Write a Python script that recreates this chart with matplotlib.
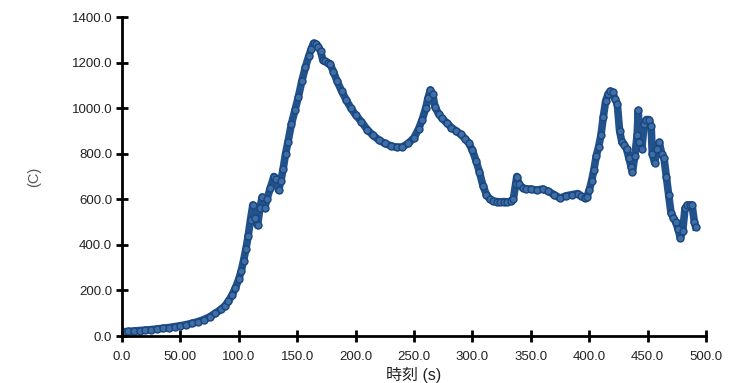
import matplotlib
matplotlib.use("Agg")
import matplotlib.pyplot as plt

plt.rcParams["font.family"] = ["Liberation Sans", "Noto Sans CJK JP", "DejaVu Sans"]

# time (s) and temperature (C)
time_s = [0, 5, 10, 15, 20, 25, 30, 35, 40, 45, 50, 55, 60, 65, 70, 75, 80, 85, 88, 91,
          94, 97, 100, 102, 104, 106, 108, 110, 112, 114, 116, 118, 120, 122, 124, 127,
          130, 132, 134, 136, 138, 140, 142, 145, 148, 151, 154, 157, 160, 162, 164, 166,
          168, 170, 172, 174, 176, 178, 181, 184, 188, 192, 196, 200, 205, 210, 215, 220,
          225, 230, 235, 240, 245, 250, 254, 257, 260, 262, 264, 266, 268, 271, 274, 278,
          282, 286, 290, 294, 297, 300, 303, 306, 309, 312, 315, 318, 321, 324, 327, 330,
          333, 335, 337, 338, 340, 343, 346, 350, 355, 360, 365, 370, 375, 380, 385, 390,
          393, 396, 398, 400, 402, 404, 406, 408, 410, 412, 414, 416, 418, 420, 422, 424,
          426, 428, 430, 432, 434, 436, 437, 439, 441, 442, 443, 445, 447, 449, 451, 453,
          454, 456, 458, 460, 462, 464, 466, 468, 470, 472, 474, 476, 478, 480, 482, 484,
          486, 488, 490, 491]
temp_c = [18, 20, 22, 24, 26, 28, 31, 34, 37, 41, 45, 50, 56, 63, 72, 84, 100, 118, 132, 152,
          178, 210, 250, 285, 330, 380, 440, 510, 575, 520, 485, 560, 610, 560, 600, 650,
          700, 690, 640, 680, 735, 800, 850, 930, 990, 1050, 1120, 1180, 1230, 1260, 1285, 1280,
          1270, 1250, 1210, 1205, 1200, 1195, 1160, 1120, 1075, 1035, 1000, 970, 940, 905, 880, 860,
          845, 835, 828, 830, 845, 870, 910, 950, 1000, 1045, 1080, 1060, 1005, 975, 955, 935,
          915, 900, 885, 865, 845, 815, 770, 720, 660, 620, 600, 592, 590, 588, 590, 588,
          592, 600, 665, 700, 665, 650, 645, 645, 640, 645, 635, 620, 605, 615, 620, 625,
          615, 605, 610, 640, 680, 730, 790, 830, 880, 960, 1030, 1060, 1075, 1070, 1040, 1020,
          900, 850, 840, 820, 780, 740, 720, 790, 880, 990, 850, 820, 930, 950, 950, 920,
          800, 760, 820, 850, 800, 780, 700, 620, 540, 520, 500, 470, 430, 460, 560, 575,
          575, 575, 500, 480]

x_ticks = [0, 50, 100, 150, 200, 250, 300, 350, 400, 450, 500]
x_tick_labels = ["0.0", "50.00", "100.0", "150.0", "200.0", "250.0", "300.0",
                 "350.0", "400.0", "450.0", "500.0"]
y_ticks = [0, 200, 400, 600, 800, 1000, 1200, 1400]

fig = plt.figure(figsize=(7.45, 3.83), dpi=100)
ax = fig.add_axes([0.1638, 0.1227, 0.7839, 0.8329])

ax.plot(time_s, temp_c, color="#21528c", lw=5.5, solid_joinstyle="round",
        marker="o", ms=5, mfc="#3f6ea6", mec="#1a467d", mew=1.0)

ax.set_xlim(0, 500)
ax.set_ylim(0, 1400)
ax.set_xticks(x_ticks)
ax.set_xticklabels(x_tick_labels)
ax.set_yticks(y_ticks)
ax.set_yticklabels([f"{v:.1f}" for v in y_ticks])

for side in ("top", "right"):
    ax.spines[side].set_visible(False)
for side in ("left", "bottom"):
    ax.spines[side].set_linewidth(2)
ax.tick_params(direction="inout", length=8, width=2, labelsize=9.5,
               labelcolor="#222222", pad=3)
ax.tick_params(axis="x", pad=7)

ax.set_xlabel("時刻 (s)", fontsize=11.5, labelpad=3, color="#222222")
ax.set_ylabel("(C)", fontsize=10.5, labelpad=22, color="#555555")

fig.savefig("out.png", dpi=100)
